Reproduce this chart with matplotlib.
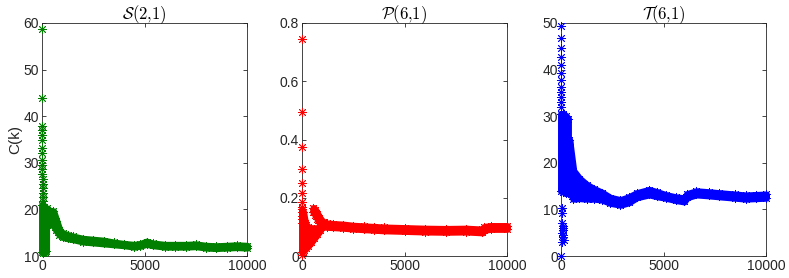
import numpy as np
import matplotlib.pyplot as plt

plt.rcParams['font.family'] = ['Liberation Sans', 'DejaVu Sans']
plt.rcParams['mathtext.fontset'] = 'cm'

# --- S(2,1): isolated early points, early strip, main band ---
S_spike_k = [2, 4, 6, 8, 10, 12, 14, 16, 18, 20, 22, 24, 26, 28, 30, 32, 34, 36]
S_spike_c = [58.7, 44.0, 37.9, 37.0, 36.0, 35.0, 33.2, 32.1, 30.6, 29.6,
             28.6, 27.5, 26.5, 25.5, 24.5, 23.6, 22.7, 21.9]
S_early_k = [0, 70, 140, 200]
S_early_lo = [10.8, 10.7, 10.8, 11.0]
S_early_hi = [21.0, 20.5, 20.0, 19.5]
S_k = [250, 400, 550, 700, 850, 1000, 1250, 1500, 2000, 2500, 3000, 3500, 4000,
       4500, 4800, 5100, 5400, 6000, 6500, 7000, 7500, 8000, 8500, 9000, 9500, 10000]
S_hi = [20.2, 19.6, 19.6, 17.6, 15.6, 14.9, 14.5, 14.2, 13.7, 13.5, 13.3, 12.9, 12.6,
        12.4, 12.6, 13.1, 12.7, 12.4, 12.4, 12.4, 12.5, 12.2, 12.1, 12.2, 12.3, 12.2]
S_lo = [16.8, 17.0, 16.7, 15.5, 14.6, 14.1, 13.8, 13.6, 13.1, 12.9, 12.7, 12.5, 12.3,
        12.0, 12.2, 12.6, 12.3, 12.0, 12.0, 12.0, 12.1, 11.8, 11.7, 11.8, 11.9, 11.8]

# --- P(6,1) ---
P_spike_k = [2, 4, 6, 8, 10, 12, 14, 16, 18, 20, 22, 24, 3]
P_spike_c = [0.745, 0.496, 0.375, 0.299, 0.25, 0.215, 0.187, 0.168, 0.152,
             0.138, 0.126, 0.115, 0.003]
P_early_k = [0, 60, 120, 200, 300, 450, 600, 750, 900]
P_early_lo = [0.015, 0.018, 0.022, 0.028, 0.035, 0.048, 0.062, 0.076, 0.09]
P_early_hi = [0.160, 0.150, 0.125, 0.105, 0.098, 0.096, 0.094, 0.096, 0.10]
P_k = [560, 650, 750, 850, 1000, 1200, 1500, 2000, 2500, 3000, 3500, 4000,
       5000, 6000, 7000, 8000, 8800, 8900, 9200, 10000]
P_hi = [0.165, 0.158, 0.145, 0.132, 0.118, 0.112, 0.110, 0.108, 0.104, 0.102,
        0.100, 0.098, 0.096, 0.094, 0.093, 0.094, 0.091, 0.100, 0.103, 0.103]
P_lo = [0.150, 0.142, 0.128, 0.115, 0.105, 0.100, 0.099, 0.097, 0.094, 0.092,
        0.090, 0.088, 0.086, 0.084, 0.083, 0.084, 0.081, 0.090, 0.093, 0.093]

# --- T(6,1) ---
T_spike_k = [2, 4, 6, 8, 10, 12, 14, 16, 18, 20, 22, 24,
             30, 40, 60, 80, 100, 120, 70, 90, 110, 130, 50, 1]
T_spike_c = [49.4, 46.7, 44.6, 42.8, 41.0, 39.2, 37.8, 36.3, 35.3, 34.2, 33.1, 32.0,
             10.4, 9.2, 7.1, 6.5, 6.0, 5.5, 5.0, 4.5, 4.0, 3.5, 3.0, 0.0]
T_early_k = [0, 120, 240, 340]
T_early_lo = [14.0, 13.8, 13.5, 13.5]
T_early_hi = [30.5, 30.5, 30.0, 29.5]
T_k = [400, 600, 900, 1250, 1600, 2000, 2400, 2900, 3300, 3700, 4300, 4700, 5100,
       5600, 6000, 6150, 6600, 7200, 7700, 8500, 9000, 9500, 10000]
T_hi = [25.0, 18.3, 16.6, 15.3, 14.4, 13.6, 12.5, 12.0, 12.6, 13.5, 14.2, 13.7, 13.1,
        12.6, 12.4, 13.3, 13.9, 13.7, 13.5, 13.2, 13.0, 13.1, 13.2]
T_lo = [14.0, 12.3, 12.4, 12.3, 12.3, 12.1, 11.4, 11.0, 11.5, 12.6, 13.2, 12.8, 12.5,
        12.0, 11.7, 12.6, 13.2, 13.0, 12.8, 12.5, 12.3, 12.4, 12.5]

panels = [
    (r'$\mathcal{S}(2{,}1)$', '#007F00', (10, 60), [10, 20, 30, 40, 50, 60],
     S_spike_k, S_spike_c, S_early_k, S_early_lo, S_early_hi, S_k, S_lo, S_hi),
    (r'$\mathcal{P}(6{,}1)$', '#FF0000', (0, 0.8), [0, 0.2, 0.4, 0.6, 0.8],
     P_spike_k, P_spike_c, P_early_k, P_early_lo, P_early_hi, P_k, P_lo, P_hi),
    (r'$\mathcal{T}(6{,}1)$', '#0000FF', (0, 50), [0, 10, 20, 30, 40, 50],
     T_spike_k, T_spike_c, T_early_k, T_early_lo, T_early_hi, T_k, T_lo, T_hi),
]

ASTERISK = (8, 2, 0)   # MATLAB-style '*' (plus and cross overlaid)

fig = plt.figure(figsize=(7.89, 2.78), dpi=100)
lefts = [42, 302, 561]
for i, (title, col, ylim, yticks, sk, sc, ek, elo, ehi, bk, blo, bhi) in enumerate(panels):
    ax = fig.add_axes([lefts[i] / 789, 22 / 278, 205 / 789, 233 / 278])
    # bands (marker width emulated by the edge line), drawn above the axes lines
    for kk, lo, hi in [(ek, elo, ehi), (bk, blo, bhi)]:
        ax.fill_between(kk, lo, hi, color=col, lw=5, joinstyle='round',
                        zorder=4, clip_on=False)
        ax.plot(kk, lo, ls='none', marker=ASTERISK, color=col, ms=6.5, mew=0.6,
                zorder=5, clip_on=False)
        ax.plot(kk, hi, ls='none', marker=ASTERISK, color=col, ms=6.5, mew=0.6,
                zorder=5, clip_on=False)
    ax.plot(sk, sc, ls='none', marker=ASTERISK, color=col, ms=6.5, mew=0.6,
            zorder=5, clip_on=False)

    ax.set_xlim(0, 10000)
    ax.set_ylim(*ylim)
    ax.set_xticks([0, 5000, 10000])
    ax.set_yticks(yticks)
    ax.set_yticklabels([f'{t:g}' for t in yticks])
    ax.tick_params(direction='in', top=True, right=True, length=3, width=0.6,
                   color='#262626', labelcolor='#262626', labelsize=10, pad=2)
    for s in ax.spines.values():
        s.set_color('#262626')
        s.set_linewidth(0.6)
    ax.set_title(title, fontsize=12, color='#000000', pad=3)
    if i == 0:
        ax.set_ylabel('C(k)', fontsize=11, color='#262626', labelpad=1)

fig.savefig('out.png', dpi=100)
